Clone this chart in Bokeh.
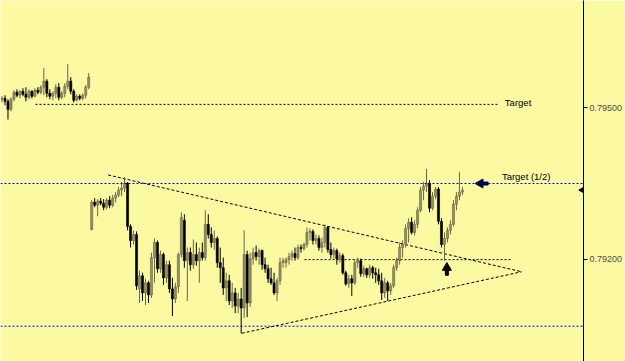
import math
from bokeh.plotting import figure
from bokeh.models import Range1d, LinearAxis, FixedTicker, PrintfTickFormatter, Span
from bokeh.core.properties import value
from bokeh.embed import file_html
from bokeh.resources import INLINE

# ---- candle data (prices) ----
opens = [0.79517,0.79519,0.79513,0.79497,0.79517,0.79531,0.79525,0.79533,0.79527,0.79521,
         0.79533,0.79523,0.79535,0.79531,0.79541,0.79553,0.79529,0.79523,0.79529,0.79541,
         0.79521,0.79529,0.79543,0.79553,0.79533,0.79515,0.79523,0.79519,0.79525,0.79541,
         0.79259,0.79313,0.79307,0.79315,0.79311,0.79303,0.79317,0.79307,0.79321,0.79327,
         0.79337,0.79341,0.79351,0.79265,0.79237,0.79249,0.79141,0.79167,0.79133,0.79153,
         0.79129,0.79203,0.79233,0.79181,0.79209,0.79163,0.79189,0.79141,0.79121,0.79145,
         0.79209,0.79277,0.79197,0.79213,0.79189,0.79209,0.79197,0.79213,0.79203,0.79269,
         0.79249,0.79233,0.79241,0.79193,0.79183,0.79143,0.79157,0.79117,0.79133,0.79107,
         0.79121,0.79103,0.79209,0.79113,0.79201,0.79213,0.79205,0.79217,0.79189,0.79181,
         0.79161,0.79153,0.79133,0.79157,0.79193,0.79193,0.79199,0.79205,0.79211,0.79203,
         0.79223,0.79221,0.79229,0.79253,0.79255,0.79237,0.79241,0.79223,0.79233,0.79263,
         0.79219,0.79209,0.79217,0.79201,0.79207,0.79173,0.79151,0.79161,0.79153,0.79193,
         0.79197,0.79171,0.79181,0.79169,0.79183,0.79173,0.79169,0.79157,0.79133,0.79153,
         0.79137,0.79147,0.79183,0.79197,0.79223,0.79229,0.79261,0.79273,0.79253,0.79269,
         0.79297,0.79337,0.79345,0.79351,0.79301,0.79325,0.79339,0.79275,0.79229,0.79241,
         0.79257,0.79269,0.79309,0.79325,0.79333]
highs = [0.79523,0.79525,0.79517,0.79521,0.79535,0.79537,0.79535,0.79539,0.79541,0.79537,
         0.79535,0.79539,0.79541,0.79545,0.79579,0.79557,0.79537,0.79533,0.79547,0.79549,
         0.79533,0.79549,0.79587,0.79561,0.79537,0.79527,0.79527,0.79529,0.79545,0.79569,
         0.79317,0.79321,0.79319,0.79321,0.79319,0.79321,0.79325,0.79327,0.79333,0.79343,
         0.79353,0.79363,0.79353,0.79269,0.79257,0.79255,0.79177,0.79173,0.79161,0.79157,
         0.79213,0.79241,0.79237,0.79217,0.79213,0.79197,0.79197,0.79163,0.79153,0.79213,
         0.79293,0.79289,0.79223,0.79223,0.79239,0.79233,0.79223,0.79233,0.79297,0.79289,
         0.79263,0.79257,0.79245,0.79223,0.79203,0.79173,0.79169,0.79153,0.79143,0.79133,
         0.79143,0.79257,0.79217,0.79213,0.79223,0.79227,0.79221,0.79219,0.79203,0.79189,
         0.79183,0.79173,0.79163,0.79203,0.79203,0.79203,0.79213,0.79217,0.79223,0.79229,
         0.79229,0.79233,0.79263,0.79261,0.79259,0.79249,0.79247,0.79243,0.79269,0.79265,
         0.79233,0.79223,0.79221,0.79213,0.79211,0.79177,0.79169,0.79169,0.79199,0.79203,
         0.79201,0.79187,0.79183,0.79189,0.79187,0.79183,0.79181,0.79173,0.79163,0.79157,
         0.79153,0.79189,0.79203,0.79233,0.79237,0.79269,0.79281,0.79283,0.79277,0.79303,
         0.79343,0.79353,0.79379,0.79357,0.79333,0.79343,0.79343,0.79281,0.79253,0.79263,
         0.79277,0.79317,0.79333,0.79373,0.79343]
lows = [0.79511,0.79505,0.79477,0.79493,0.79513,0.79521,0.79519,0.79523,0.79513,0.79517,
        0.79519,0.79521,0.79527,0.79527,0.79525,0.79521,0.79517,0.79515,0.79519,0.79515,
        0.79517,0.79521,0.79537,0.79527,0.79511,0.79513,0.79515,0.79515,0.79519,0.79537,
        0.79257,0.79303,0.79285,0.79307,0.79297,0.79299,0.79301,0.79303,0.79313,0.79323,
        0.79325,0.79333,0.79257,0.79223,0.79229,0.79139,0.79113,0.79117,0.79109,0.79113,
        0.79123,0.79153,0.79173,0.79173,0.79149,0.79153,0.79133,0.79087,0.79113,0.79133,
        0.79203,0.79183,0.79117,0.79177,0.79181,0.79187,0.79153,0.79197,0.79197,0.79241,
        0.79223,0.79219,0.79183,0.79153,0.79129,0.79117,0.79109,0.79103,0.79093,0.79093,
        0.79053,0.79083,0.79085,0.79105,0.79189,0.79197,0.79189,0.79179,0.79173,0.79153,
        0.79149,0.79129,0.79117,0.79149,0.79183,0.79183,0.79189,0.79197,0.79197,0.79199,
        0.79213,0.79217,0.79223,0.79237,0.79229,0.79229,0.79217,0.79213,0.79223,0.79213,
        0.79201,0.79201,0.79189,0.79193,0.79169,0.79147,0.79143,0.79127,0.79149,0.79183,
        0.79165,0.79165,0.79163,0.79163,0.79161,0.79153,0.79149,0.79119,0.79123,0.79117,
        0.79129,0.79143,0.79177,0.79189,0.79203,0.79223,0.79233,0.79249,0.79247,0.79261,
        0.79293,0.79317,0.79333,0.79293,0.79297,0.79319,0.79269,0.79223,0.79197,0.79233,
        0.79249,0.79265,0.79297,0.79317,0.79327]
closes = [0.79519,0.79513,0.79497,0.79517,0.79531,0.79525,0.79533,0.79527,0.79521,0.79533,
          0.79523,0.79535,0.79531,0.79541,0.79553,0.79529,0.79523,0.79529,0.79541,0.79521,
          0.79529,0.79543,0.79553,0.79533,0.79515,0.79523,0.79519,0.79525,0.79541,0.79561,
          0.79313,0.79307,0.79315,0.79311,0.79303,0.79317,0.79307,0.79321,0.79327,0.79337,
          0.79341,0.79351,0.79265,0.79237,0.79249,0.79147,0.79167,0.79133,0.79153,0.79129,
          0.79203,0.79233,0.79181,0.79209,0.79163,0.79189,0.79141,0.79121,0.79145,0.79209,
          0.79283,0.79197,0.79213,0.79189,0.79209,0.79197,0.79213,0.79203,0.79269,0.79249,
          0.79233,0.79241,0.79193,0.79183,0.79143,0.79157,0.79117,0.79133,0.79107,0.79121,
          0.79103,0.79209,0.79113,0.79201,0.79213,0.79205,0.79217,0.79189,0.79181,0.79161,
          0.79153,0.79133,0.79157,0.79193,0.79197,0.79199,0.79205,0.79211,0.79203,0.79223,
          0.79221,0.79229,0.79253,0.79255,0.79237,0.79241,0.79223,0.79233,0.79263,0.79219,
          0.79209,0.79217,0.79201,0.79207,0.79173,0.79151,0.79161,0.79153,0.79193,0.79197,
          0.79171,0.79181,0.79169,0.79183,0.79173,0.79169,0.79157,0.79133,0.79153,0.79137,
          0.79147,0.79183,0.79197,0.79223,0.79229,0.79261,0.79273,0.79253,0.79269,0.79297,
          0.79337,0.79345,0.79351,0.79301,0.79325,0.79339,0.79275,0.79229,0.79241,0.79257,
          0.79269,0.79309,0.79325,0.79333,0.79337]

# ---- annotations ----
target_price = 0.79507
target_span = [11.2, 166.0]
half_target_price = 0.79350
support_price = 0.79067
neck_price = 0.79199
neck_span = [101.2, 170.2]
tri_upper_x = [35.5, 173.8]
tri_upper_y = [0.79367, 0.79175]
tri_lower_x = [80.2, 173.8]
tri_lower_y = [0.79053, 0.79175]
y_ticks = [0.792, 0.795]
last_price = 0.79337

BG = "#fcf9a3"
BULL = "#939063"
BULL_WICK = "#6a6744"
BEAR = "#000000"

n = len(closes)
xs = list(range(n))
bull_idx = [i for i in xs if closes[i] >= opens[i]]
bear_idx = [i for i in xs if closes[i] < opens[i]]

p = figure(width=625, height=361, x_range=Range1d(-0.5, 194.5), y_range=Range1d(0.78997, 0.79713),
           output_backend="svg", toolbar_location=None, x_axis_location=None, y_axis_location="right",
           min_border_left=0, min_border_top=0, min_border_bottom=0, min_border_right=0,
           background_fill_color=BG, border_fill_color=BG, outline_line_color=None)
p.grid.visible = False

# bottom border line as an empty axis
bottom = LinearAxis(ticker=FixedTicker(ticks=[]), major_label_text_font_size="0px",
                    major_tick_line_color=None, minor_tick_line_color=None,
                    axis_line_color="black", axis_line_width=1)
p.add_layout(bottom, "below")

ya = p.yaxis[0]
ya.ticker = FixedTicker(ticks=y_ticks)
ya.formatter = PrintfTickFormatter(format="%.5f")
ya.major_tick_out = 4
ya.major_tick_in = 0
ya.minor_tick_line_color = None
ya.axis_line_color = "black"
ya.major_tick_line_color = "black"
ya.major_label_standoff = 2
ya.major_label_text_font = "Liberation Sans"
ya.major_label_text_font_size = "9px"
ya.major_label_text_color = "#4d4d4d"

# horizontal levels
p.add_layout(Span(location=half_target_price, dimension="width", line_color="#0000cc",
                  line_dash="2 2", line_width=1))
p.add_layout(Span(location=support_price, dimension="width", line_color="#0000ff",
                  line_dash="2 2", line_width=1))
p.line(target_span, [target_price, target_price], line_color="black", line_dash="2 2", line_width=1)
p.line(neck_span, [neck_price, neck_price], line_color="black", line_dash="2 2", line_width=1)
p.line(tri_upper_x, tri_upper_y, line_color="black", line_dash="3 2", line_width=1)
p.line(tri_lower_x, tri_lower_y, line_color="black", line_dash="3 2", line_width=1)

# candles
p.segment([xs[i] for i in bull_idx], [highs[i] for i in bull_idx],
          [xs[i] for i in bull_idx], [lows[i] for i in bull_idx], line_color=BULL_WICK, line_width=1)
p.segment([xs[i] for i in bear_idx], [highs[i] for i in bear_idx],
          [xs[i] for i in bear_idx], [lows[i] for i in bear_idx], line_color=BEAR, line_width=1)
p.vbar(x=[xs[i] for i in bull_idx], width=0.7, top=[closes[i] for i in bull_idx],
       bottom=[opens[i] for i in bull_idx], fill_color=BULL, line_color=BULL_WICK, line_width=0.6)
p.vbar(x=[xs[i] for i in bear_idx], width=0.7, top=[opens[i] for i in bear_idx],
       bottom=[closes[i] for i in bear_idx], fill_color=BEAR, line_color=BEAR, line_width=0.6)

# labels
p.text(x=[168.2], y=[0.79511], text=["Target"], text_font=value("Liberation Sans"),
       text_font_size="9.5px", text_color="black", text_baseline="middle", text_align="left")
p.text(x=[167.2], y=[0.79363], text=["Target (1/2)"], text_font=value("Liberation Sans"),
       text_font_size="9.5px", text_color="black", text_baseline="middle", text_align="left")

# left-pointing arrow on the half target line
p.scatter(x=[160.0], y=[half_target_price], marker="triangle", size=9, angle=math.pi / 2,
          fill_color="#000044", line_color="#000044")
p.rect(x=[161.6], y=[half_target_price], width=6, height=3, width_units="screen", height_units="screen",
       fill_color="#000044", line_color="#000044")

# up arrow under the retest low
p.scatter(x=[148.8], y=[0.79183], marker="triangle", size=9, fill_color="black", line_color="black")
p.rect(x=[148.8], y=[0.79173], width=3, height=5, width_units="screen", height_units="screen",
       fill_color="black", line_color="black")

# current price marker at the price scale edge
p.scatter(x=[194.1], y=[last_price], marker="triangle", size=6, angle=math.pi / 2,
          fill_color="black", line_color="black")

open("out.html", "w").write(file_html(p, INLINE))
